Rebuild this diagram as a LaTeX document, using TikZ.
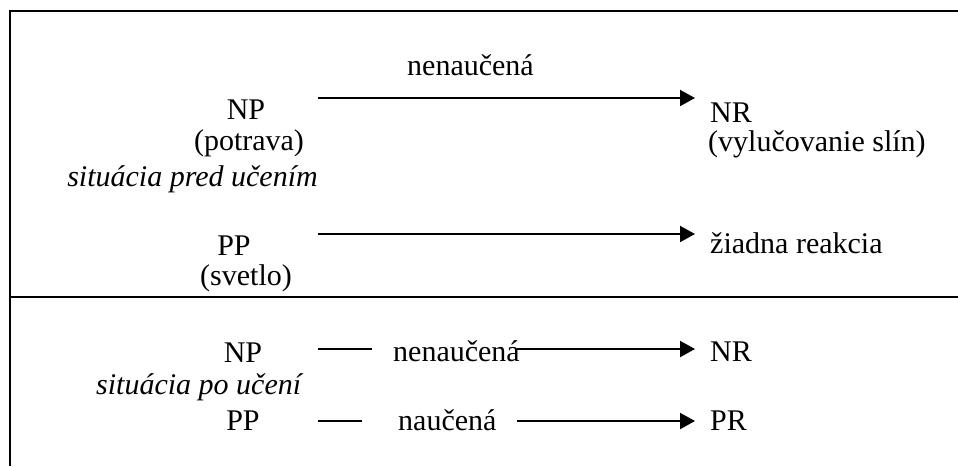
\documentclass[tikz,border=0pt]{standalone}
\usepackage{fontspec}
\setmainfont{Liberation Serif}
\usetikzlibrary{arrows.meta}
\tikzset{
  txt/.style={inner sep=0pt, font=\fontsize{30}{32}\selectfont},
  itxt/.style={txt, font=\fontsize{30}{32}\selectfont\itshape},
  frameline/.style={line width=2.5pt},
  conn/.style={line width=2pt},
  arr/.style={conn, -{Triangle[length=15pt,width=16pt]}}
}
\begin{document}
\begin{tikzpicture}[x=1pt,y=-1pt]
\useasboundingbox (0,0) rectangle (958,466);
% frame
\coordinate (tl) at (10,11);
\coordinate (tr) at (958,11);
\coordinate (bl) at (10,466);
\coordinate (dl) at (10,297);
\coordinate (dr) at (958,297);
\draw[frameline] (bl) -- (tl) -- (tr);
\draw[frameline] (dl) -- (dr);
% top section texts
\node[txt, anchor=base west] (lbl1) at (407,75) {nenaučená};
\node[txt, anchor=base] (np1) at (246,119) {NP};
\node[txt, anchor=base] (pot) at (249,150) {(potrava)};
\node[itxt, anchor=base east] (sit1) at (318,186) {situácia pred učením};
\node[txt, anchor=base west] (nr1) at (710,122) {NR};
\node[txt, anchor=base west] (vyl) at (708,151) {(vylučovanie slín)};
\node[txt, anchor=base] (pp1) at (234,255) {PP};
\node[txt, anchor=base] (svet) at (246,285) {(svetlo)};
\node[txt, anchor=base west] (ziad) at (710,253) {žiadna reakcia};
% bottom section texts
\node[txt, anchor=base] (np2) at (243,362) {NP};
\node[itxt, anchor=base west] (sit2) at (96,394) {situácia po učení};
\node[txt, anchor=base] (pp2) at (243,430) {PP};
\node[txt, anchor=base west] (lbl2) at (393,361) {nenaučená};
\node[txt, anchor=base west] (lbl3) at (398,430) {naučená};
\node[txt, anchor=base west] (nr2) at (710,361) {NR};
\node[txt, anchor=base west] (pr) at (710,430) {PR};
% connector endpoints
\coordinate (a1s) at (318,98);
\coordinate (a1e) at (695,98);
\coordinate (a2s) at (318,234);
\coordinate (a2e) at (695,234);
\coordinate (b1s) at (318,349);
\coordinate (b1m) at (372,349);
\coordinate (b1n) at (517,349);
\coordinate (b1e) at (695,349);
\coordinate (b2s) at (318,421);
\coordinate (b2m) at (362,421);
\coordinate (b2n) at (517,421);
\coordinate (b2e) at (695,421);
% connectors
\draw[arr] (a1s) -- (a1e);
\draw[arr] (a2s) -- (a2e);
\draw[conn] (b1s) -- (b1m);
\draw[arr] (b1n) -- (b1e);
\draw[conn] (b2s) -- (b2m);
\draw[arr] (b2n) -- (b2e);
\end{tikzpicture}
\end{document}
